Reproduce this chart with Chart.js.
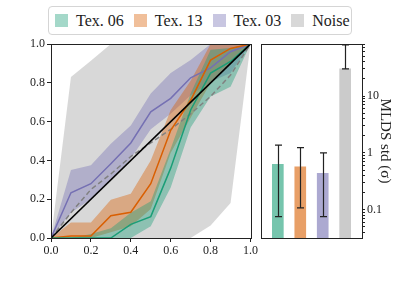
<!DOCTYPE html>
<html>
<head>
<meta charset="utf-8">
<script src="https://cdn.jsdelivr.net/npm/chart.js@4"></script>
<style>
  body { margin: 0; background: #fff; width: 407px; height: 285px; overflow: hidden; position: relative; font-family: 'Liberation Serif', serif; }
  #left { position: absolute; left: 0; top: 0; }
  #right { position: absolute; left: 255px; top: 0; }
  #legend { position: absolute; left: 48px; top: 6px; width: 302px; height: 27px; border: 1px solid #d5d5d5; border-radius: 4px;
            display: flex; align-items: center; font-size: 16px; color: #222; white-space: nowrap; }
  #legend span.item { display: flex; align-items: center; margin-left: 6px; margin-right: 4px; white-space: nowrap; }
  #legend span.box { width: 13px; height: 13px; display: inline-block; margin-right: 8px; flex: none; }
</style>
</head>
<body>
<div id="legend"></div>
<canvas id="left" width="260" height="285"></canvas>
<canvas id="right" width="152" height="285"></canvas>
<script>
// data
var xs = [0, 0.1, 0.2, 0.3, 0.4, 0.5, 0.6, 0.7, 0.8, 0.9, 1.0];
var names = ['Tex. 06', 'Tex. 13', 'Tex. 03', 'Noise'];

var tex06 = [0, 0, 0, 0, 0.07, 0.11, 0.36, 0.66, 0.85, 0.91, 1.0];
var tex06Hi = [0, 0, 0.02, 0.05, 0.13, 0.19, 0.46, 0.745, 0.97, 0.98, 1.0];
var tex06Lo = [0, 0, 0, 0, 0, 0.06, 0.26, 0.57, 0.73, 0.78, 1.0];

var tex13 = [0, 0.01, 0.01, 0.115, 0.133, 0.28, 0.555, 0.71, 0.917, 0.977, 1.0];
var tex13Hi = [0, 0.08, 0.08, 0.197, 0.228, 0.4, 0.66, 0.81, 1.0, 1.0, 1.0];
var tex13Lo = [0, 0, 0, 0.03, 0.06, 0.15, 0.44, 0.62, 0.8, 0.9, 1.0];

var tex03 = [0, 0.233, 0.28, 0.383, 0.49, 0.65, 0.72, 0.826, 0.877, 0.96, 1.0];
var tex03Hi = [0, 0.35, 0.375, 0.486, 0.58, 0.745, 0.85, 0.917, 1.0, 1.0, 1.0];
var tex03Lo = [0, 0.13, 0.2, 0.3, 0.41, 0.56, 0.64, 0.736, 0.805, 0.85, 1.0];

var noise = [0, 0.13, 0.25, 0.33, 0.42, 0.49, 0.56, 0.64, 0.73, 0.84, 1.0];
var noiseHi = [0, 0.83, 0.914, 1.0, 1.0, 1.0, 1.0, 1.0, 1.0, 1.0, 1.0];
var noiseLo = [0, 0, 0, 0, 0, 0, 0, 0, 0.064, 0.18, 1.0];

var diag = [0, 1];

var stdVals = [0.63, 0.57, 0.44, 30];
var stdLo = [0.076, 0.108, 0.076, 30];
var stdHi = [1.37, 1.24, 1.0, 79];

var logTicks = [0.04, 0.05, 0.06, 0.07, 0.08, 0.09, 0.1, 0.2, 0.3, 0.4, 0.5, 0.6, 0.7, 0.8, 0.9,
                1, 2, 3, 4, 5, 6, 7, 8, 9, 10, 20, 30, 40, 50, 60, 70, 80];
var logLabels = [0.1, 1, 10];

var lineCols = ['#1b9e77', '#d95f02', '#7570b3', '#808080'];
var bandCols = ['rgba(27,158,119,0.4)', 'rgba(217,95,2,0.4)', 'rgba(117,112,179,0.4)', 'rgba(200,200,200,0.7)'];
var barCols = ['rgba(27,158,119,0.6)', 'rgba(217,95,2,0.6)', 'rgba(117,112,179,0.6)', 'rgba(190,190,190,0.8)'];
var legendCols = ['rgba(27,158,119,0.4)', 'rgba(217,95,2,0.4)', 'rgba(117,112,179,0.4)', 'rgb(216,216,216)'];

var FONT = "'Liberation Serif', serif";

// legend
var lg = document.getElementById('legend');
names.forEach(function (n, i) {
    var it = document.createElement('span');
    it.className = 'item';
    var b = document.createElement('span');
    b.className = 'box';
    b.style.background = legendCols[i];
    it.appendChild(b);
    it.appendChild(document.createTextNode(n));
    lg.appendChild(it);
});

function pts(arr) {
    return arr.map(function (y, i) { return { x: xs[i], y: y }; });
}

var frame = {
    id: 'frame',
    afterDraw: function (chart) {
        var a = chart.chartArea, c = chart.ctx;
        c.save();
        c.strokeStyle = '#222';
        c.lineWidth = 1;
        c.strokeRect(Math.round(a.left) + 0.5, Math.round(a.top) + 0.5, Math.round(a.right - a.left), Math.round(a.bottom - a.top));
        c.restore();
    }
};

var datasets = [];
datasets.push({ data: [{ x: 0, y: diag[0] }, { x: 1, y: diag[1] }], borderColor: '#000', borderWidth: 1.6, pointRadius: 0, fill: false, order: 0 });
var series = [[tex06, tex06Hi, tex06Lo], [tex13, tex13Hi, tex13Lo], [tex03, tex03Hi, tex03Lo], [noise, noiseHi, noiseLo]];
series.forEach(function (s, i) {
    var isNoise = i === 3;
    datasets.push({ data: pts(s[0]), borderColor: lineCols[i], borderWidth: 1.5, pointRadius: 0, fill: false,
        borderDash: isNoise ? [5, 3] : [], order: isNoise ? 2 : 1 });
    datasets.push({ data: pts(s[1]), borderWidth: 0, borderColor: 'rgba(0,0,0,0)', pointRadius: 0,
        backgroundColor: bandCols[i], fill: '+1', order: isNoise ? 20 : 10 + i });
    datasets.push({ data: pts(s[2]), borderWidth: 0, borderColor: 'rgba(0,0,0,0)', pointRadius: 0, fill: false, order: isNoise ? 21 : 15 + i });
});

new Chart(document.getElementById('left'), {
    type: 'line',
    data: { datasets: datasets },
    options: {
        responsive: false,
        animation: false,
        layout: { padding: { top: 44, right: 8, left: 0, bottom: 0 } },
        plugins: { legend: { display: false }, tooltip: { enabled: false } },
        scales: {
            x: {
                type: 'linear', min: 0, max: 1,
                afterFit: function (s) { s.height = 47; },
                grid: { drawOnChartArea: false, tickLength: 4, color: '#222' },
                border: { display: false },
                ticks: { stepSize: 0.2, color: '#222', padding: 2, maxRotation: 0, font: { family: FONT, size: 12 },
                    callback: function (v) { return v.toFixed(1); } }
            },
            y: {
                type: 'linear', min: 0, max: 1,
                afterFit: function (s) { s.width = 51; },
                grid: { drawOnChartArea: false, tickLength: 4, color: '#222' },
                border: { display: false },
                ticks: { stepSize: 0.2, color: '#222', padding: 2, font: { family: FONT, size: 12 },
                    callback: function (v) { return v.toFixed(1); } }
            }
        }
    },
    plugins: [frame]
});

var errorBars = {
    id: 'errorBars',
    afterDatasetsDraw: function (chart) {
        var c = chart.ctx, xs_ = chart.scales.x, ys_ = chart.scales.y;
        c.save();
        c.strokeStyle = '#222';
        c.lineWidth = 1.2;
        stdVals.forEach(function (v, i) {
            var x = Math.round(xs_.getPixelForValue(i)) + 0.5;
            var y1 = ys_.getPixelForValue(stdLo[i]);
            var y2 = ys_.getPixelForValue(stdHi[i]);
            c.beginPath();
            c.moveTo(x, y1); c.lineTo(x, y2);
            c.moveTo(x - 3.5, y1); c.lineTo(x + 3.5, y1);
            c.moveTo(x - 3.5, y2); c.lineTo(x + 3.5, y2);
            c.stroke();
        });
        c.restore();
    }
};

new Chart(document.getElementById('right'), {
    type: 'bar',
    data: {
        datasets: [{
            data: stdVals.map(function (v, i) { return { x: i, y: v }; }),
            backgroundColor: barCols,
            borderWidth: 0,
            barThickness: 11
        }]
    },
    options: {
        responsive: false,
        animation: false,
        layout: { padding: { top: 44, right: 0, left: 6, bottom: 0 } },
        plugins: { legend: { display: false }, tooltip: { enabled: false } },
        scales: {
            x: {
                type: 'linear', min: -0.75, max: 3.75, offset: false,
                afterFit: function (s) { s.height = 47; },
                grid: { display: false, offset: false },
                border: { display: false },
                ticks: { display: false }
            },
            y: {
                type: 'logarithmic', position: 'right', min: 0.032, max: 82,
                afterFit: function (s) { s.width = 45; },
                afterBuildTicks: function (s) { s.ticks = logTicks.map(function (v) { return { value: v }; }); },
                grid: { drawOnChartArea: false, tickLength: 3, color: '#222' },
                border: { display: false },
                ticks: { color: '#222', padding: 2, autoSkip: false, font: { family: FONT, size: 12 },
                    callback: function (v) { return logLabels.indexOf(v) >= 0 ? String(v) : ''; } },
                title: { display: true, text: 'MLDS std (σ)', color: '#222', font: { family: FONT, size: 15 }, padding: { top: 13, bottom: 0 } }
            }
        }
    },
    plugins: [frame, errorBars]
});
</script>
</body>
</html>
